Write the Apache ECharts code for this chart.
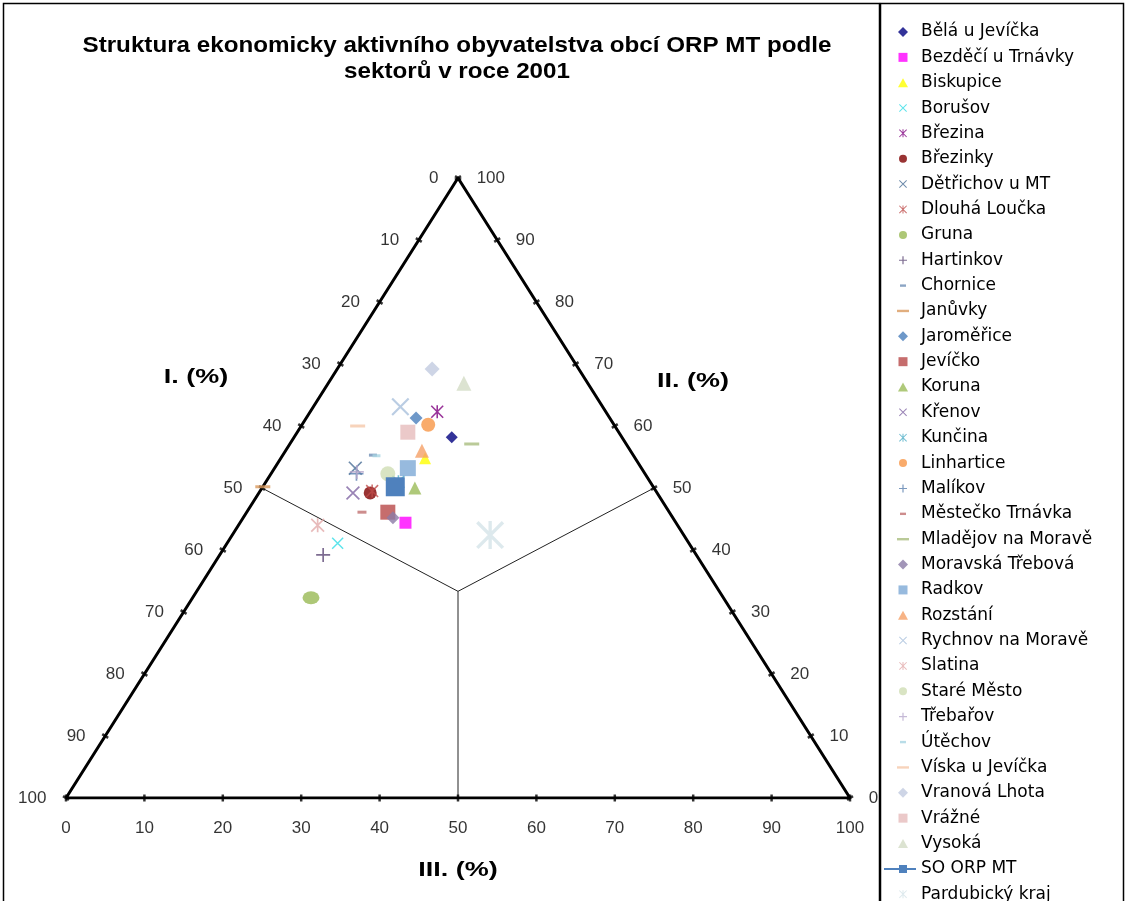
<!DOCTYPE html>
<html><head><meta charset="utf-8">
<script src="https://cdn.jsdelivr.net/npm/echarts@6/dist/echarts.min.js"></script>
<style>html,body{margin:0;padding:0;background:#fff}#c{width:1127px;height:901px}</style>
</head><body><div id="c"></div>
<script>
// ---- data ----
const names = ['Bělá u Jevíčka','Bezděčí u Trnávky','Biskupice','Borušov','Březina','Březinky','Dětřichov u MT','Dlouhá Loučka','Gruna','Hartinkov','Chornice','Janůvky','Jaroměřice','Jevíčko','Koruna','Křenov','Kunčina','Linhartice','Malíkov','Městečko Trnávka','Mladějov na Moravě','Moravská Třebová','Radkov','Rozstání','Rychnov na Moravě','Slatina','Staré Město','Třebařov','Útěchov','Víska u Jevíčka','Vranová Lhota','Vrážné','Vysoká','SO ORP MT','Pardubický kraj'];
const sectorI   = [21.7,34.5,26.8,44.8,21.5,36.6,36.5,36.2,52.6,47.6,33.2,49.8,24.7,35.9,30.5,38.8,32.1,23.7,36.8,39.2,19.7,35.7,29.8,26.6,25.8,45.9,32.8,36.6,32.8,32.8,18.7,26.9,15.8,32.9,24.7];
const sectorII  = [58.2,44.4,54.8,41.1,62.3,49.2,53.2,49.5,32.3,39.2,55.3,50.2,61.3,46.1,50.0,49.2,51.0,60.2,52.3,46.1,57.1,45.2,53.2,56.0,63.1,44.0,52.3,52.6,55.2,60.0,69.2,59.0,66.9,50.2,42.4];
const sectorIII = [20.1,21.1,18.4,14.1,16.2,14.2,10.3,14.3,15.1,13.2,11.5,0.0,14.0,18.0,19.5,12.0,16.9,16.1,10.9,14.7,23.2,19.1,17.0,17.4,11.1,10.1,14.9,10.8,12.0,7.2,12.1,14.1,17.3,16.9,32.9];
const tickValues = [0,10,20,30,40,50,60,70,80,90,100];
const axisTitles = ['I. (%)','II. (%)','III. (%)'];
const chartTitle = 'Struktura ekonomicky aktivního obyvatelstva obcí ORP MT podle\nsektorů v roce 2001';

// ---- marker shapes ----
const PLUS = 'path://M4.4,0H5.6V4.4H10V5.6H5.6V10H4.4V5.6H0V4.4H4.4Z';
const XS = 'path://M0,0.85L0.85,0L10,9.15L9.15,10Z M10,0.85L0.85,10L0,9.15L9.15,0Z';
const AST = 'path://M4.4,0H5.6V10H4.4Z M0,0.85L0.85,0L10,9.15L9.15,10Z M10,0.85L0.85,10L0,9.15L9.15,0Z';
// legend icons drawn in a 32x11 box (padding points keep the scale 1:1)
const PAD = 'M0,0L0,0M32,11L32,11';
const LI = {
  diamond: 'M19,0.5L24,5.5L19,10.5L14,5.5Z',
  rect: 'M14.5,1H23.5V10H14.5Z',
  triangle: 'M19,1L24,10H14Z',
  x: 'M15,2.1L15.7,1.4L23,8.7L22.3,9.4Z M23,2.1L15.7,9.4L15,8.7L22.3,1.4Z',
  ast: 'M18.5,1.4H19.5V9.4H18.5Z M15,2.1L15.7,1.4L23,8.7L22.3,9.4Z M23,2.1L15.7,9.4L15,8.7L22.3,1.4Z',
  circle: 'M15,5.5A4,4 0 1 0 23,5.5A4,4 0 1 0 15,5.5Z',
  plus: 'M18.4,1.5H19.6V4.9H23V6.1H19.6V9.5H18.4V6.1H15V4.9H18.4Z',
  dash: 'M13,4.3H25V6.7H13Z',
  sdash: 'M16,4.3H22V6.7H16Z',
  line: 'M0,4.5H32V6.5H0Z M15,1.5H23V9.5H15Z'
};
const styles = [
  ['diamond','#000080',12,'diamond'],
  ['rect','#FF00FF',12,'rect'],
  ['triangle','#FFFF00',12,'triangle'],
  [XS,'#33DDE6',12,'x'],
  [AST,'#800080',13,'ast'],
  ['circle','#800000',13,'circle'],
  [XS,'#4A6E96',14,'x'],
  [AST,'#BE4B48',13,'ast'],
  ['circle','#98B954',[17,13],'circle'],
  [PLUS,'#5C4776',14,'plus'],
  ['rect','#6F8FB5',[8,3],'sdash'],
  ['rect','#D99A5E',[15,3],'dash'],
  ['diamond','#4A7EBB',13,'diamond'],
  ['rect','#B84848',15,'rect'],
  ['triangle','#9BBB59',13,'triangle'],
  [XS,'#8064A2',14,'x'],
  [AST,'#4BACC6',13,'ast'],
  ['circle','#F79646',14,'circle'],
  [PLUS,'#5A7FAE',14,'plus'],
  ['rect','#C07070',[9,3],'sdash'],
  ['rect','#A9BD7E',[15,3],'dash'],
  ['diamond','#8B7BA6',13,'diamond'],
  ['rect','#7DA9D6',16,'rect'],
  ['triangle','#F5A066',14,'triangle'],
  [XS,'#A9C0DC',18,'x'],
  [AST,'#E2AAAA',14,'ast'],
  ['circle','#CFDDB4',15,'circle'],
  [PLUS,'#B6A8CC',14,'plus'],
  ['rect','#A8D4E2',[8,3],'sdash'],
  ['rect','#F5C8AA',[15,3],'dash'],
  ['diamond','#C2CAE0',15,'diamond'],
  ['rect','#E6BCBC',15,'rect'],
  ['triangle','#D3DCC5',15,'triangle'],
  ['rect','#4F81BD',19,'line'],
  [AST,'#D5E4E8',28,'ast']
];

function toXY(i, ii, iii) { const s = i + ii + iii; return [(iii + ii / 2) / s * 100, ii / s * 100]; }

const series = [];
series.push({type:'line', silent:true, symbol:'none', z:1, lineStyle:{color:'#000', width:3},
  data:[toXY(100,0,0), toXY(0,100,0), toXY(0,0,100), toXY(100,0,0)]});
const center = toXY(1,1,1);
[[50,50,0],[0,50,50],[50,0,50]].forEach(m => series.push({type:'line', silent:true, symbol:'none', z:1,
  lineStyle:{color:'#222', width:1}, data:[center, toXY(m[0],m[1],m[2])]}));
const lblFont = {fontFamily:'Liberation Sans', fontSize:17, color:'#000'};
series.push({type:'scatter', silent:true, symbol:'rect', symbolSize:[7,2.5], symbolRotate:-32.3, z:2,
  itemStyle:{color:'#000'}, label:Object.assign({show:true, position:'left', distance:16, formatter:p=>p.data[2]}, lblFont),
  data: tickValues.map(t => toXY(t,100-t,0).concat([t]))});
series.push({type:'scatter', silent:true, symbol:'rect', symbolSize:[7,2.5], symbolRotate:32.3, z:2,
  itemStyle:{color:'#000'}, label:Object.assign({show:true, position:'right', distance:15, formatter:p=>p.data[2]}, lblFont),
  data: tickValues.map(t => toXY(0,t,100-t).concat([t]))});
series.push({type:'scatter', silent:true, symbol:'rect', symbolSize:[2.5,7], z:2,
  itemStyle:{color:'#000'}, label:Object.assign({show:true, position:'bottom', distance:18, formatter:p=>p.data[2]}, lblFont),
  data: tickValues.map(t => toXY(100-t,0,t).concat([t]))});

names.forEach((n, k) => {
  const st = styles[k];
  const isLine = n === 'SO ORP MT';
  series.push({
    name: n, type: isLine ? 'line' : 'scatter', z: 3 + k * 0.01,
    symbol: st[0], symbolSize: st[2], showSymbol:true,
    itemStyle: {color: st[1]}, lineStyle:{color: st[1], width:2},
    data: [toXY(sectorI[k], sectorII[k], sectorIII[k])]
  });
});

const chart = echarts.init(document.getElementById('c'), null, {renderer:'canvas'});
chart.setOption({
  animation:false,
  backgroundColor:'#fff',
  grid:{left:66, top:178, width:784, height:620},
  xAxis:{type:'value', min:0, max:100, show:false},
  yAxis:{type:'value', min:0, max:100, show:false},
  legend:{orient:'vertical', left:884, top:23.5, height:1000, padding:0, itemWidth:32, itemHeight:11, itemGap:8.36, symbolKeepAspect:true,
    textStyle:{fontFamily:'DejaVu Sans', fontSize:17, color:'#000'},
    data:names.map((n,k) => ({name:n, icon:'path://' + PAD + LI[styles[k][3]]}))},
  graphic:[
    {type:'rect', shape:{x:3.5, y:3.5, width:876, height:910}, style:{fill:'none', stroke:'#000', lineWidth:1.5}, silent:true},
    {type:'rect', shape:{x:880.5, y:3.5, width:243, height:910}, style:{fill:'none', stroke:'#000', lineWidth:1.5}, silent:true},
    {type:'text', x:457, y:33, scaleX:1.1, style:{text:chartTitle, textAlign:'center', font:'bold 22px "Liberation Sans"', lineHeight:26, fill:'#000'}},
    {type:'text', x:196, y:377, scaleX:1.35, style:{text:axisTitles[0], textAlign:'center', textVerticalAlign:'middle', font:'bold 20px "Liberation Sans"', fill:'#000'}},
    {type:'text', x:693, y:381, scaleX:1.35, style:{text:axisTitles[1], textAlign:'center', textVerticalAlign:'middle', font:'bold 20px "Liberation Sans"', fill:'#000'}},
    {type:'text', x:458, y:870, scaleX:1.35, style:{text:axisTitles[2], textAlign:'center', textVerticalAlign:'middle', font:'bold 20px "Liberation Sans"', fill:'#000'}}
  ],
  series: series
});
</script></body></html>
